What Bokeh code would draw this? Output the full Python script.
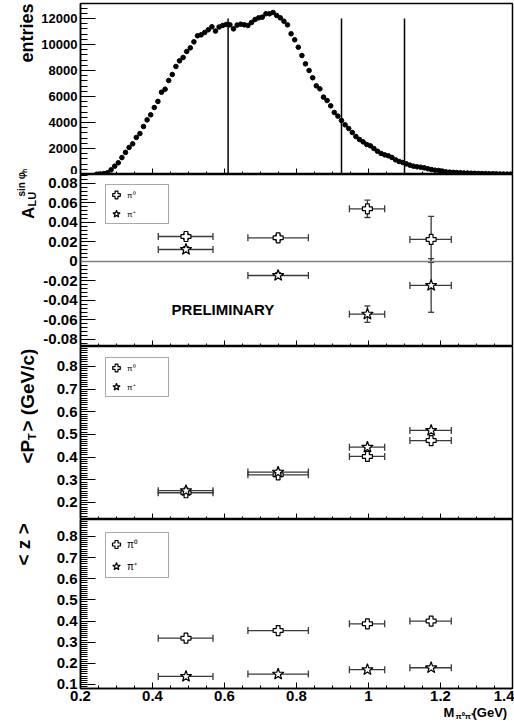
import math
from bokeh.plotting import figure
from bokeh.layouts import column, row
from bokeh.models import (FixedTicker, SingleIntervalTicker, NumeralTickFormatter, Span,
                          Legend, LegendItem, ColumnDataSource, Range1d, CustomJSTickFormatter)
from bokeh.embed import file_html
from bokeh.resources import INLINE
from bokeh.core.properties import value

# ---------------- data ----------------
mass_centers = [
    0.245, 0.255, 0.265, 0.275, 0.285, 0.295, 0.305, 0.315, 0.325, 0.335,
    0.345, 0.355, 0.365, 0.375, 0.385, 0.395, 0.405, 0.415, 0.425, 0.435,
    0.445, 0.455, 0.465, 0.475, 0.485, 0.495, 0.505, 0.515, 0.525, 0.535,
    0.545, 0.555, 0.565, 0.575, 0.585, 0.595, 0.605, 0.615, 0.625, 0.635,
    0.645, 0.655, 0.665, 0.675, 0.685, 0.695, 0.705, 0.715, 0.725, 0.735,
    0.745, 0.755, 0.765, 0.775, 0.785, 0.795, 0.805, 0.815, 0.825, 0.835,
    0.845, 0.855, 0.865, 0.875, 0.885, 0.895, 0.905, 0.915, 0.925, 0.935,
    0.945, 0.955, 0.965, 0.975, 0.985, 0.995, 1.005, 1.015, 1.025, 1.035,
    1.045, 1.055, 1.065, 1.075, 1.085, 1.095, 1.105, 1.115, 1.125, 1.135,
    1.145, 1.155, 1.165, 1.175, 1.185, 1.195, 1.205, 1.215, 1.225, 1.235,
    1.245, 1.255, 1.265, 1.275, 1.285, 1.295, 1.305, 1.315, 1.325, 1.335,
    1.345, 1.355, 1.365, 1.375, 1.385, 1.395]
entries = [
    20, 40, 70, 130, 360, 640, 900, 1300, 1700, 2080,
    2360, 2850, 3150, 3690, 4200, 4590, 5150, 5620, 6330, 6560,
    7230, 7690, 8310, 8740, 9000, 9460, 9740, 10200, 10670, 10740,
    10920, 11130, 11360, 11030, 11340, 11460, 11540, 11510, 11200, 11490,
    11560, 11510, 11460, 11690, 11920, 12050, 12100, 12360, 12360, 12460,
    12230, 12050, 11790, 11510, 10820, 10360, 9790, 9150, 8510, 8000,
    7440, 6820, 6590, 5950, 5690, 5280, 4770, 4490, 4150, 3820,
    3540, 3230, 2920, 2690, 2510, 2310, 2210, 2000, 1790, 1620,
    1510, 1440, 1310, 1130, 1000, 920, 820, 720, 640, 590,
    560, 510, 440, 380, 330, 310, 260, 200, 180, 165,
    150, 135, 120, 110, 100, 90, 80, 72, 65, 58,
    52, 46, 40, 35, 30, 26]
cut_edges = [0.61, 0.925, 1.10]
cut_top = [12000, 12000, 12000]

bin_mass = [0.493, 0.749, 0.997, 1.174]
bin_lo = [0.416, 0.665, 0.947, 1.115]
bin_hi = [0.568, 0.833, 1.045, 1.230]

alu_pi0 = [0.0256, 0.0243, 0.0540, 0.0226]
alu_pi0_err = [0.003, 0.003, 0.0089, 0.0236]
alu_pip = [0.0123, -0.0144, -0.0540, -0.0246]
alu_pip_err = [0.003, 0.003, 0.0084, 0.0275]

pt_pi0 = [0.243, 0.322, 0.403, 0.473]
pt_pi0_err = [0.004, 0.004, 0.005, 0.005]
pt_pip = [0.252, 0.334, 0.444, 0.518]
pt_pip_err = [0.004, 0.004, 0.005, 0.005]

z_pi0 = [0.319, 0.355, 0.387, 0.400]
z_pi0_err = [0.003, 0.003, 0.003, 0.003]
z_pip = [0.138, 0.149, 0.170, 0.179]
z_pip_err = [0.003, 0.003, 0.003, 0.003]

x_ticks = [0.2, 0.4, 0.6, 0.8, 1.0, 1.2, 1.4]
x_minor = [0.25, 0.3, 0.35, 0.45, 0.5, 0.55, 0.65, 0.7, 0.75, 0.85, 0.9, 0.95,
           1.05, 1.1, 1.15, 1.25, 1.3, 1.35]
zero_line = 0.0

# ---------------- style / layout ----------------
FONT = "Liberation Sans"
X0, X1 = 0.2, 1.4
LW = 38                   # width of the left title strip
FW = 432                  # frame width (frame from x=80 to 512)
ERR = "#3a3a3a"
MID = 0.35                # em offset from the alphabetic baseline to the text middle


def make_fig(y0, y1, frame_h, top_border, bottom_border, last, ysize):
    p = figure(frame_width=FW, frame_height=frame_h,
               x_range=Range1d(X0, X1), y_range=Range1d(y0, y1),
               output_backend="svg", toolbar_location=None,
               min_border_left=80 - LW, min_border_right=2,
               min_border_top=top_border, min_border_bottom=bottom_border)
    p.outline_line_color = "black"
    p.outline_line_width = 1.5
    p.outline_line_alpha = 1.0
    p.grid.visible = False
    p.background_fill_color = "white"
    p.border_fill_color = "white"

    xa = p.xaxis[0]
    xa.ticker = FixedTicker(ticks=x_ticks, minor_ticks=x_minor)
    xa.major_tick_in = 6
    xa.major_tick_out = 0
    xa.minor_tick_in = 3
    xa.minor_tick_out = 0
    xa.axis_line_width = 1.5
    if last:
        xa.formatter = NumeralTickFormatter(format="0.[0]")
        xa.major_label_text_font = FONT
        xa.major_label_text_font_style = "bold"
        xa.major_label_text_font_size = "15px"
        xa.major_label_text_color = "black"
        xa.major_label_standoff = 2
    else:
        xa.formatter = CustomJSTickFormatter(code="return ''")
        xa.major_label_text_font_size = "1px"
        xa.major_label_standoff = 0

    ya = p.yaxis[0]
    ya.major_tick_in = 15
    ya.major_tick_out = 0
    ya.minor_tick_in = 7
    ya.minor_tick_out = 0
    ya.axis_line_width = 1.5
    ya.major_label_text_font = FONT
    ya.major_label_text_font_style = "bold"
    ya.major_label_text_font_size = ysize
    ya.major_label_text_color = "black"
    ya.major_label_standoff = 3
    return p


def add_points(p, xs, ys, errs, marker, size):
    src = ColumnDataSource(dict(
        x=xs, y=ys, lo=bin_lo, hi=bin_hi,
        ylo=[a - b for a, b in zip(ys, errs)], yhi=[a + b for a, b in zip(ys, errs)]))
    p.segment(x0="lo", y0="y", x1="hi", y1="y", source=src, line_color=ERR, line_width=1.3)
    p.segment(x0="x", y0="ylo", x1="x", y1="yhi", source=src, line_color=ERR, line_width=1.3)
    p.scatter(x="lo", y="y", source=src, marker="dash", angle=math.pi / 2, size=7,
              line_color=ERR, line_width=1.3)
    p.scatter(x="hi", y="y", source=src, marker="dash", angle=math.pi / 2, size=7,
              line_color=ERR, line_width=1.3)
    p.scatter(x="x", y="ylo", source=src, marker="dash", size=6, line_color=ERR, line_width=1.3)
    p.scatter(x="x", y="yhi", source=src, marker="dash", size=6, line_color=ERR, line_width=1.3)
    r = p.scatter(x="x", y="y", source=src, marker=marker, size=size,
                  fill_color="white", line_color="black", line_width=1.2)
    return r


def add_legend(p, r0, r1, loc, gh, font_size):
    leg = Legend(items=[LegendItem(label=value("π⁰"), renderers=[r0]),
                        LegendItem(label=value("π⁺"), renderers=[r1])],
                 location=loc, glyph_width=20, glyph_height=gh,
                 label_width=41, label_height=gh, spacing=-1, padding=0, margin=0,
                 label_standoff=1, border_line_color="#555555", border_line_width=1.5,
                 background_fill_color="white", background_fill_alpha=1.0,
                 label_text_font=FONT, label_text_font_size=font_size,
                 label_text_color="black")
    p.add_layout(leg, "center")


def text_fig(width, height):
    f = figure(width=width, height=height, x_range=Range1d(0, width),
               y_range=Range1d(0, height), output_backend="svg", toolbar_location=None,
               x_axis_type=None, y_axis_type=None, min_border=0)
    f.outline_line_color = None
    f.grid.visible = False
    f.background_fill_color = "white"
    f.border_fill_color = "white"
    return f


def put_v(f, base_x, y_from_top, s, size, align="left"):
    # vertical text (reads bottom to top); base_x = alphabetic baseline position
    f.text(x=[base_x - MID * size], y=[f.height - y_from_top], text=[s], angle=math.pi / 2,
           text_align=align, text_baseline="middle", text_font=value(FONT),
           text_font_style="bold", text_font_size=f"{size}px", text_color="black")


def put_h(f, x, base_y_from_top, s, size):
    f.text(x=[x], y=[f.height - (base_y_from_top - MID * size)], text=[s],
           text_align="left", text_baseline="middle", text_font=value(FONT),
           text_font_style="bold", text_font_size=f"{size}px", text_color="black")


# ---- panel 1: entries ----
p1 = make_fig(0, 13150, 171, 3, 0, False, "13px")
p1.yaxis[0].ticker = SingleIntervalTicker(interval=2000, num_minor_ticks=5)
p1.yaxis[0].formatter = NumeralTickFormatter(format="0")
p1.segment(x0=cut_edges, y0=[0, 0, 0], x1=cut_edges, y1=cut_top, line_color="black", line_width=1.5)
p1.scatter(x=mass_centers, y=entries, marker="circle", size=4.6, fill_color="black", line_color="black")

# ---- panel 2: A_LU ----
p2 = make_fig(-0.0872, 0.0892, 172, 0, 0, False, "15px")
p2.yaxis[0].ticker = SingleIntervalTicker(interval=0.02, num_minor_ticks=5)
p2.yaxis[0].formatter = NumeralTickFormatter(format="0.[00]")
p2.add_layout(Span(location=zero_line, dimension="width", line_color="#808080", line_width=1.5))
r_a0 = add_points(p2, bin_mass, alu_pi0, alu_pi0_err, "plus", 10)
r_a1 = add_points(p2, bin_mass, alu_pip, alu_pip_err, "star", 12)
add_legend(p2, r_a0, r_a1, (25, 122), 19, "8px")
p2.text(x=[0.453], y=[-0.0490], text=["PRELIMINARY"], text_font=value(FONT),
        text_font_style="bold", text_font_size="15px", text_color="black",
        text_baseline="middle", text_align="left")

# ---- panel 3: <PT> ----
p3 = make_fig(0.125, 0.888, 173, 0, 0, False, "15px")
p3.yaxis[0].ticker = SingleIntervalTicker(interval=0.1, num_minor_ticks=10)
p3.yaxis[0].formatter = NumeralTickFormatter(format="0.[0]")
r_p0 = add_points(p3, bin_mass, pt_pi0, pt_pi0_err, "plus", 10)
r_p1 = add_points(p3, bin_mass, pt_pip, pt_pip_err, "star", 12)
add_legend(p3, r_p0, r_p1, (25, 122), 19, "8px")

# ---- panel 4: <z> ----
p4 = make_fig(0.081, 0.880, 169, 0, 18, True, "15px")
p4.yaxis[0].ticker = SingleIntervalTicker(interval=0.1, num_minor_ticks=10)
p4.yaxis[0].formatter = NumeralTickFormatter(format="0.[0]")
r_z0 = add_points(p4, bin_mass, z_pi0, z_pi0_err, "plus", 10)
r_z1 = add_points(p4, bin_mass, z_pip, z_pip_err, "star", 12)
add_legend(p4, r_z0, r_z1, (25, 110), 22, "10px")

# ---- left strip with the y-axis titles (pixels from the page top) ----
left = text_fig(LW, 700)
put_v(left, 33, 3, "entries", 18, align="right")
put_v(left, 33.5, 218.5, "A", 17)
put_v(left, 35, 206, "LU", 11)
put_v(left, 24, 196, "sin φ", 10)
put_v(left, 26.5, 172.5, "h", 7)
put_v(left, 33.5, 463, "<P", 19)
put_v(left, 35, 439.5, "T", 11)
put_v(left, 33.5, 431, "> (GeV/c)", 19)
put_v(left, 30, 565, "< z >", 19)

# ---- bottom strip with the x-axis title ----
bottom = text_fig(514, 14)
put_h(bottom, 443, 10.5, "M", 13)
put_h(bottom, 455, 13, "π⁰π⁺", 8)
put_h(bottom, 472, 11, "(GeV)", 13)

layout = column(row(left, column(p1, p2, p3, p4, spacing=0), spacing=0), bottom, spacing=0)
open("out.html", "w").write(file_html(layout, INLINE))
